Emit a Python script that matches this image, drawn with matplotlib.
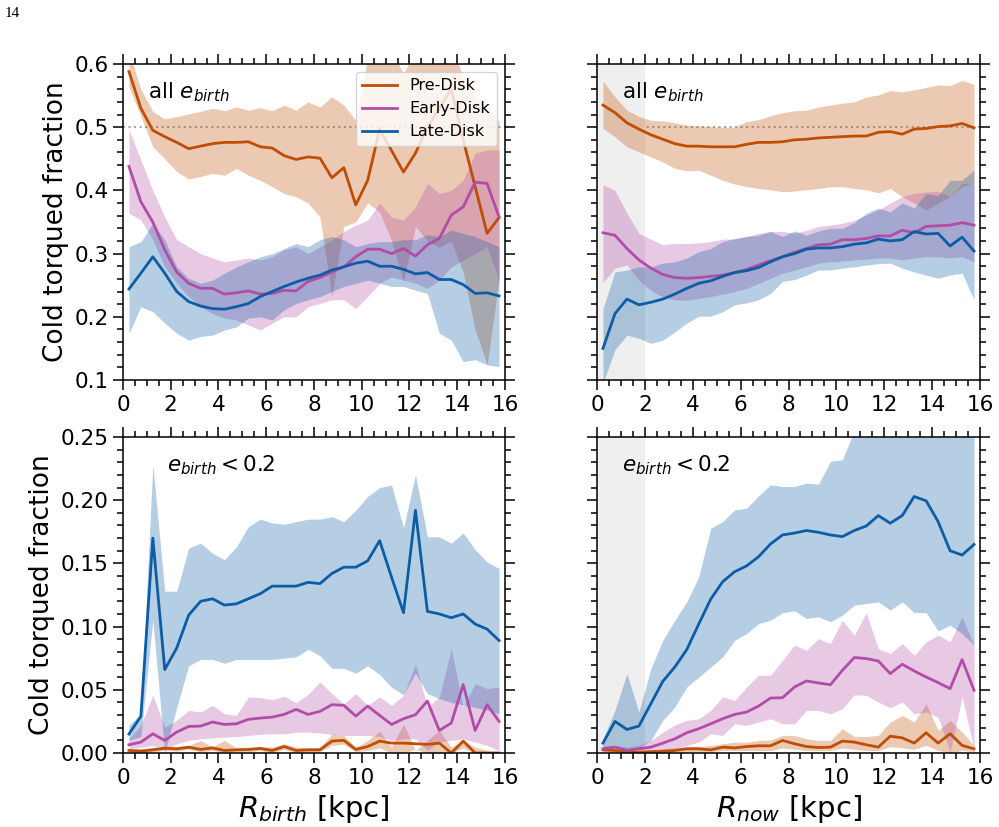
import numpy as np
import matplotlib.pyplot as plt
from matplotlib.ticker import MultipleLocator, FormatStrFormatter

# bin centres [kpc]
r_bins = [0.25, 0.75, 1.25, 1.75, 2.25, 2.75, 3.25, 3.75, 4.25, 4.75, 5.25, 5.75,
          6.25, 6.75, 7.25, 7.75, 8.25, 8.75, 9.25, 9.75, 10.25, 10.75, 11.25, 11.75,
          12.25, 12.75, 13.25, 13.75, 14.25, 14.75, 15.25, 15.75]

# ---- top left: R_birth, all e_birth
tl_pre = [0.588, 0.530, 0.495, 0.485, 0.476, 0.466, 0.470, 0.474, 0.476, 0.476, 0.477, 0.469, 0.467, 0.455, 0.449, 0.453,
          0.451, 0.420, 0.436, 0.377, 0.416, 0.497, 0.463, 0.429, 0.459, 0.500, 0.530, 0.560, 0.480, 0.406, 0.332, 0.357]
tl_pre_hi = [0.62, 0.56, 0.525, 0.513, 0.517, 0.521, 0.525, 0.530, 0.526, 0.532, 0.527, 0.531, 0.526, 0.535, 0.527, 0.540,
             0.532, 0.548, 0.535, 0.511, 0.61, 0.64, 0.62, 0.585, 0.62, 0.63, 0.64, 0.63, 0.58, 0.55, 0.53, 0.51]
tl_pre_lo = [0.564, 0.517, 0.469, 0.45, 0.430, 0.418, 0.422, 0.427, 0.424, 0.435, 0.424, 0.416, 0.406, 0.395, 0.390, 0.380,
             0.358, 0.232, 0.343, 0.350, 0.380, 0.366, 0.32, 0.256, 0.343, 0.32, 0.31, 0.32, 0.27, 0.18, 0.124, 0.258]
tl_early = [0.438, 0.382, 0.350, 0.306, 0.271, 0.253, 0.245, 0.245, 0.236, 0.238, 0.241, 0.236, 0.237, 0.242, 0.241, 0.256,
            0.262, 0.271, 0.279, 0.295, 0.307, 0.307, 0.300, 0.308, 0.296, 0.314, 0.324, 0.361, 0.374, 0.413, 0.411, 0.358]
tl_early_hi = [0.496, 0.448, 0.400, 0.358, 0.322, 0.311, 0.300, 0.293, 0.287, 0.290, 0.293, 0.290, 0.295, 0.306, 0.311, 0.300,
               0.311, 0.322, 0.335, 0.345, 0.353, 0.380, 0.358, 0.353, 0.374, 0.411, 0.395, 0.400, 0.416, 0.459, 0.464, 0.464]
tl_early_lo = [0.364, 0.353, 0.322, 0.279, 0.253, 0.232, 0.216, 0.205, 0.198, 0.195, 0.187, 0.179, 0.190, 0.200, 0.200, 0.216,
               0.221, 0.227, 0.227, 0.213, 0.232, 0.253, 0.263, 0.258, 0.253, 0.245, 0.258, 0.279, 0.290, 0.300, 0.311, 0.258]
tl_late = [0.244, 0.269, 0.295, 0.269, 0.240, 0.224, 0.217, 0.213, 0.212, 0.216, 0.221, 0.232, 0.240, 0.248, 0.255, 0.261,
           0.266, 0.274, 0.279, 0.285, 0.288, 0.280, 0.280, 0.275, 0.268, 0.270, 0.259, 0.259, 0.251, 0.237, 0.238, 0.233]
tl_late_hi = [0.311, 0.319, 0.348, 0.322, 0.279, 0.261, 0.253, 0.258, 0.269, 0.279, 0.287, 0.295, 0.300, 0.308, 0.316, 0.311,
              0.322, 0.327, 0.322, 0.311, 0.316, 0.319, 0.319, 0.322, 0.322, 0.330, 0.327, 0.337, 0.332, 0.327, 0.319, 0.311]
tl_late_lo = [0.174, 0.216, 0.208, 0.190, 0.174, 0.163, 0.169, 0.171, 0.179, 0.184, 0.198, 0.200, 0.195, 0.211, 0.221, 0.227,
              0.232, 0.240, 0.248, 0.253, 0.258, 0.253, 0.248, 0.248, 0.242, 0.237, 0.174, 0.163, 0.129, 0.132, 0.124, 0.121]

# ---- top right: R_now, all e_birth
tr_pre = [0.535, 0.523, 0.507, 0.497, 0.488, 0.481, 0.474, 0.470, 0.470, 0.469, 0.469, 0.469, 0.473, 0.476, 0.476, 0.477,
          0.480, 0.481, 0.483, 0.484, 0.485, 0.486, 0.486, 0.492, 0.493, 0.489, 0.497, 0.498, 0.501, 0.502, 0.506, 0.499]
tr_pre_hi = [0.573, 0.548, 0.527, 0.517, 0.511, 0.510, 0.507, 0.503, 0.502, 0.501, 0.500, 0.500, 0.509, 0.512, 0.518, 0.523,
             0.526, 0.527, 0.532, 0.535, 0.538, 0.540, 0.548, 0.551, 0.558, 0.556, 0.559, 0.563, 0.567, 0.566, 0.574, 0.568]
tr_pre_lo = [0.498, 0.485, 0.469, 0.461, 0.453, 0.445, 0.435, 0.431, 0.432, 0.424, 0.416, 0.410, 0.406, 0.403, 0.401, 0.398,
             0.399, 0.401, 0.403, 0.406, 0.406, 0.403, 0.401, 0.396, 0.403, 0.390, 0.380, 0.369, 0.380, 0.390, 0.406, 0.411]
tr_early = [0.333, 0.329, 0.308, 0.290, 0.277, 0.267, 0.262, 0.261, 0.262, 0.264, 0.266, 0.270, 0.275, 0.282, 0.289, 0.295,
            0.302, 0.308, 0.314, 0.315, 0.322, 0.322, 0.324, 0.328, 0.328, 0.337, 0.333, 0.343, 0.344, 0.345, 0.349, 0.345]
tr_early_hi = [0.409, 0.400, 0.364, 0.332, 0.323, 0.314, 0.316, 0.316, 0.317, 0.319, 0.323, 0.323, 0.327, 0.332, 0.335, 0.335,
               0.332, 0.337, 0.343, 0.345, 0.348, 0.353, 0.361, 0.369, 0.380, 0.390, 0.395, 0.398, 0.398, 0.390, 0.411, 0.410]
tr_early_lo = [0.254, 0.277, 0.282, 0.258, 0.242, 0.231, 0.227, 0.226, 0.229, 0.232, 0.236, 0.240, 0.245, 0.253, 0.261, 0.269,
               0.274, 0.279, 0.285, 0.287, 0.288, 0.290, 0.291, 0.293, 0.293, 0.290, 0.293, 0.295, 0.295, 0.293, 0.295, 0.287]
tr_late = [0.150, 0.205, 0.228, 0.219, 0.223, 0.228, 0.236, 0.245, 0.253, 0.257, 0.264, 0.270, 0.273, 0.278, 0.287, 0.295,
           0.300, 0.307, 0.309, 0.309, 0.311, 0.315, 0.317, 0.323, 0.320, 0.322, 0.335, 0.331, 0.332, 0.312, 0.326, 0.304]
tr_late_hi = [0.213, 0.271, 0.274, 0.279, 0.279, 0.285, 0.287, 0.293, 0.303, 0.308, 0.319, 0.324, 0.327, 0.329, 0.335, 0.327,
              0.336, 0.329, 0.336, 0.340, 0.340, 0.349, 0.364, 0.372, 0.366, 0.380, 0.372, 0.395, 0.392, 0.416, 0.416, 0.432]
tr_late_lo = [0.095, 0.148, 0.171, 0.166, 0.158, 0.163, 0.176, 0.190, 0.201, 0.201, 0.208, 0.219, 0.222, 0.227, 0.237, 0.256,
              0.259, 0.266, 0.274, 0.274, 0.277, 0.279, 0.282, 0.284, 0.285, 0.277, 0.271, 0.266, 0.261, 0.266, 0.269, 0.227]

# ---- bottom left: R_birth, e_birth < 0.2
bl_pre = [0.002, 0.0015, 0.0025, 0.0038, 0.0033, 0.0046, 0.0028, 0.004, 0.002, 0.0025, 0.0028, 0.0036, 0.002, 0.0051, 0.002, 0.0025,
          0.0025, 0.0094, 0.010, 0.0028, 0.0051, 0.0094, 0.0078, 0.0078, 0.0073, 0.0068, 0.0078, 0.0, 0.0094, 0.0, 0.0, 0.0]
bl_pre_hi = [0.0033, 0.0033, 0.004, 0.005, 0.005, 0.0059, 0.0099, 0.005, 0.0099, 0.004, 0.004, 0.005, 0.0046, 0.0073, 0.0046, 0.004,
             0.0046, 0.015, 0.0139, 0.0046, 0.0099, 0.0172, 0.0046, 0.0231, 0.002, 0.0099, 0.0178, 0.0046, 0.0099, 0.0046, 0.002, 0.0]
bl_pre_lo = [0.0005, 0.0, 0.001, 0.002, 0.0015, 0.003, 0.001, 0.002, 0.0, 0.001, 0.001, 0.002, 0.0, 0.003, 0.0, 0.001,
             0.001, 0.006, 0.007, 0.001, 0.002, 0.004, 0.0, 0.0, 0.003, 0.0, 0.0, 0.0, 0.004, 0.0, 0.0, 0.0]
bl_early = [0.0065, 0.0086, 0.0152, 0.0099, 0.0165, 0.021, 0.0213, 0.0245, 0.0226, 0.0231, 0.0266, 0.0276, 0.0284, 0.0305, 0.0345, 0.0305,
            0.0329, 0.0382, 0.0377, 0.0292, 0.0371, 0.0297, 0.0226, 0.0271, 0.0303, 0.0411, 0.0178, 0.0237, 0.0541, 0.0178, 0.0382, 0.025]
bl_early_hi = [0.0112, 0.0218, 0.0456, 0.0205, 0.0258, 0.0337, 0.0324, 0.0377, 0.031, 0.0297, 0.0443, 0.0438, 0.0422, 0.0449, 0.0396, 0.0464,
               0.0562, 0.047, 0.039, 0.047, 0.0377, 0.0443, 0.0377, 0.0456, 0.0707, 0.0364, 0.0443, 0.0826, 0.0364, 0.0549, 0.0509, 0.0522]
bl_early_lo = [0.0033, 0.0046, 0.006, 0.0025, 0.0073, 0.010, 0.0112, 0.012, 0.0126, 0.013, 0.0139, 0.0147, 0.0152, 0.0152, 0.0165, 0.0165,
               0.0158, 0.0147, 0.0139, 0.0139, 0.0139, 0.013, 0.010, 0.0112, 0.0112, 0.002, 0.0086, 0.010, 0.0112, 0.0086, 0.006, 0.002]
bl_late = [0.015, 0.029, 0.170, 0.066, 0.083, 0.109, 0.120, 0.122, 0.117, 0.118, 0.122, 0.126, 0.132, 0.132, 0.132, 0.135,
           0.134, 0.142, 0.147, 0.147, 0.152, 0.168, 0.139, 0.111, 0.192, 0.112, 0.110, 0.107, 0.110, 0.102, 0.098, 0.089]
bl_late_hi = [0.022, 0.031, 0.228, 0.128, 0.128, 0.162, 0.166, 0.158, 0.153, 0.163, 0.179, 0.185, 0.182, 0.181, 0.183, 0.185,
              0.185, 0.187, 0.183, 0.192, 0.203, 0.210, 0.212, 0.178, 0.220, 0.171, 0.171, 0.166, 0.174, 0.161, 0.151, 0.146]
bl_late_lo = [0.010, 0.013, 0.105, 0.000, 0.036, 0.069, 0.074, 0.074, 0.071, 0.074, 0.074, 0.074, 0.074, 0.075, 0.076, 0.082,
              0.077, 0.067, 0.067, 0.063, 0.069, 0.062, 0.052, 0.046, 0.063, 0.047, 0.043, 0.040, 0.038, 0.036, 0.034, 0.031]

# ---- bottom right: R_now, e_birth < 0.2
br_pre = [0.0025, 0.002, 0.0006, 0.0006, 0.001, 0.0013, 0.002, 0.0033, 0.0033, 0.0025, 0.0046, 0.004, 0.0051, 0.0057, 0.0057, 0.0099,
          0.0073, 0.0051, 0.0043, 0.0046, 0.0094, 0.0086, 0.0065, 0.0046, 0.0133, 0.012, 0.0078, 0.016, 0.0078, 0.0152, 0.006, 0.0033]
br_pre_hi = [0.0033, 0.0033, 0.0025, 0.002, 0.0025, 0.0033, 0.004, 0.0051, 0.0051, 0.0059, 0.0073, 0.0086, 0.0086, 0.0099, 0.0104, 0.0139,
             0.0139, 0.0112, 0.0099, 0.0099, 0.0192, 0.0131, 0.0131, 0.0139, 0.0245, 0.0297, 0.0245, 0.039, 0.0178, 0.0258, 0.0165, 0.006]
br_pre_lo = [0.001, 0.0005, 0.0, 0.0, 0.0, 0.0, 0.0005, 0.001, 0.001, 0.001, 0.002, 0.002, 0.002, 0.002, 0.002, 0.004,
             0.003, 0.002, 0.002, 0.002, 0.004, 0.003, 0.002, 0.002, 0.005, 0.004, 0.003, 0.006, 0.002, 0.0, 0.002, 0.001]
br_early = [0.0033, 0.0046, 0.002, 0.0033, 0.0046, 0.0078, 0.0112, 0.016, 0.0192, 0.0231, 0.0271, 0.0305, 0.0324, 0.0371, 0.0435, 0.0437,
            0.0522, 0.057, 0.0554, 0.054, 0.0654, 0.0755, 0.0747, 0.0728, 0.0628, 0.0702, 0.0649, 0.0601, 0.0557, 0.0509, 0.0739, 0.0496]
br_early_hi = [0.006, 0.006, 0.0046, 0.006, 0.0099, 0.0165, 0.0223, 0.0258, 0.0271, 0.0337, 0.0443, 0.0416, 0.0522, 0.0615, 0.0615, 0.0734,
               0.0853, 0.0813, 0.0905, 0.0866, 0.105, 0.0932, 0.111, 0.0826, 0.0787, 0.0866, 0.0773, 0.0879, 0.0932, 0.0879, 0.1077, 0.0853]
br_early_lo = [0.002, 0.002, 0.0007, 0.002, 0.0007, 0.002, 0.0033, 0.006, 0.0086, 0.0152, 0.0139, 0.0231, 0.0218, 0.0245, 0.0271, 0.0231,
               0.0231, 0.0337, 0.0337, 0.031, 0.035, 0.046, 0.0456, 0.0403, 0.0358, 0.0403, 0.031, 0.0324, 0.0284, 0.0007, 0.0443, 0.0033]
br_late = [0.0078, 0.025, 0.0186, 0.0213, 0.039, 0.0567, 0.068, 0.0818, 0.102, 0.1217, 0.1355, 0.1434, 0.148, 0.1553, 0.1654, 0.1725,
           0.174, 0.176, 0.1746, 0.1725, 0.1712, 0.176, 0.1796, 0.1878, 0.1818, 0.1878, 0.2029, 0.1995, 0.183, 0.160, 0.1566, 0.165]
br_late_hi = [0.0112, 0.0337, 0.0628, 0.0324, 0.0668, 0.0892, 0.105, 0.1196, 0.1395, 0.1778, 0.183, 0.1923, 0.1937, 0.2034, 0.2122, 0.2108,
              0.2108, 0.2135, 0.2127, 0.2307, 0.232, 0.255, 0.27, 0.28, 0.28, 0.29, 0.29, 0.29, 0.29, 0.29, 0.29, 0.29]
br_late_lo = [0.002, 0.006, 0.002, 0.004, 0.0099, 0.0258, 0.0364, 0.0522, 0.060, 0.068, 0.076, 0.0892, 0.0945, 0.1024, 0.105, 0.111,
              0.1125, 0.1064, 0.1077, 0.1038, 0.109, 0.117, 0.1183, 0.1196, 0.113, 0.1196, 0.111, 0.111, 0.0966, 0.1011, 0.0945, 0.0853]

labels = ["Pre-Disk", "Early-Disk", "Late-Disk"]
colors = ["#bf4e04", "#b24ca8", "#0c5da5"]

plt.rcParams["font.family"] = "DejaVu Sans"
plt.rcParams["mathtext.fontset"] = "dejavusans"


def draw_panel(ax, series, top, left, label_text):
    x = np.array(r_bins)
    for (mid, lo, hi), c, lab in zip(series, colors, labels):
        ax.fill_between(x, lo, hi, color=c, alpha=0.3, lw=0)
        ax.plot(x, mid, color=c, lw=2.0, label=lab)
    ax.set_xlim(0, 16)
    ax.xaxis.set_major_locator(MultipleLocator(2))
    ax.xaxis.set_minor_locator(MultipleLocator(0.5))
    if top:
        ax.set_ylim(0.1, 0.6)
        ax.yaxis.set_major_locator(MultipleLocator(0.1))
        ax.yaxis.set_minor_locator(MultipleLocator(0.02))
        ax.yaxis.set_major_formatter(FormatStrFormatter("%.1f"))
        ax.axhline(0.5, color="0.65", ls=":", lw=1.5, zorder=0)
    else:
        ax.set_ylim(0, 0.25)
        ax.yaxis.set_major_locator(MultipleLocator(0.05))
        ax.yaxis.set_minor_locator(MultipleLocator(0.01))
        ax.yaxis.set_major_formatter(FormatStrFormatter("%.2f"))
    if not left:
        ax.axvspan(0, 2, color="#efefef", lw=0, zorder=0)
        ax.tick_params(labelleft=False)
    else:
        ax.set_ylabel("Cold torqued fraction", fontsize=19)
    ax.tick_params(which="both", direction="out", top=True, right=True, labelsize=15.5, width=1.1)
    ax.tick_params(which="major", length=7)
    ax.tick_params(which="minor", length=4)
    for s in ax.spines.values():
        s.set_linewidth(1.1)
    tx = 0.065 if (top or not left) else 0.115
    ax.text(tx, 0.91, label_text, transform=ax.transAxes, fontsize=15.5, va="center", ha="left")


fig = plt.figure(figsize=(9.99, 8.27), dpi=100)
ax_tl = fig.add_axes([0.1231, 0.5405, 0.3824, 0.3821])
ax_tr = fig.add_axes([0.5976, 0.5405, 0.3834, 0.3821])
ax_bl = fig.add_axes([0.1231, 0.0895, 0.3824, 0.3821])
ax_br = fig.add_axes([0.5976, 0.0895, 0.3834, 0.3821])

draw_panel(ax_tl, [(tl_pre, tl_pre_lo, tl_pre_hi), (tl_early, tl_early_lo, tl_early_hi), (tl_late, tl_late_lo, tl_late_hi)],
           True, True, r"all $e_{birth}$")
draw_panel(ax_tr, [(tr_pre, tr_pre_lo, tr_pre_hi), (tr_early, tr_early_lo, tr_early_hi), (tr_late, tr_late_lo, tr_late_hi)],
           True, False, r"all $e_{birth}$")
draw_panel(ax_bl, [(bl_pre, bl_pre_lo, bl_pre_hi), (bl_early, bl_early_lo, bl_early_hi), (bl_late, bl_late_lo, bl_late_hi)],
           False, True, r"$e_{birth} < 0.2$")
draw_panel(ax_br, [(br_pre, br_pre_lo, br_pre_hi), (br_early, br_early_lo, br_early_hi), (br_late, br_late_lo, br_late_hi)],
           False, False, r"$e_{birth} < 0.2$")

ax_tl.legend(loc="upper right", fontsize=11.5, handlelength=2.2)
ax_bl.set_xlabel(r"$R_{birth}$ [kpc]", fontsize=21)
ax_br.set_xlabel(r"$R_{now}$ [kpc]", fontsize=21)

fig.text(0.005, 0.992, "14", family="Liberation Serif", fontsize=11, va="top", ha="left")

fig.savefig("out.png", dpi=100)
